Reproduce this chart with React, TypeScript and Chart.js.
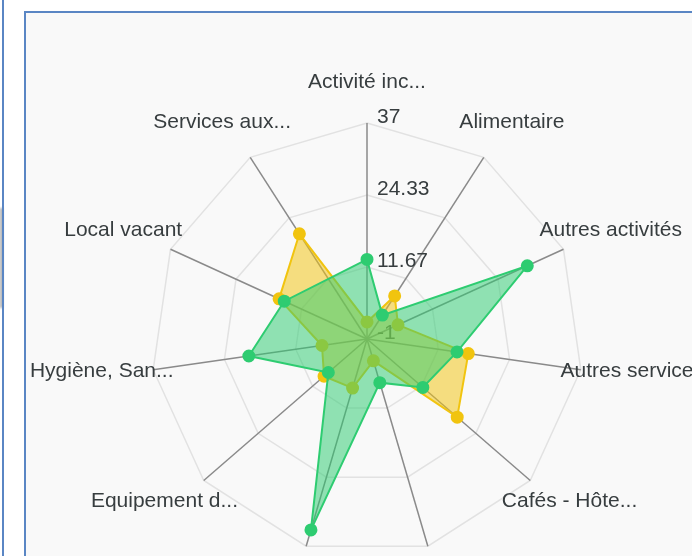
import React, { useEffect, useRef } from "react";
import { Chart, registerables } from "chart.js";

Chart.register(...registerables);

// ---- data ----
const categories = [
  "Activité inconnue",
  "Alimentaire",
  "Autres activités",
  "Autres services",
  "Cafés - Hôtels - Restaurants",
  "Culture, Loisirs, Sports",
  "Equipement de la maison",
  "Equipement de la personne",
  "Hygiène, Santé, Beauté",
  "Local vacant",
  "Services aux particuliers",
];
// green series has no value for the last category (no marker in the picture)
const greenSeries = [13, 4, 30, 15, 12, 7, 34, 8, 20, 15, null];
const yellowSeries = [2, 8, 5, 17, 20, 3, 8, 9, 7, 16, 21];
const tickLabels = ["-1", "11.67", "24.33", "37"];
const scaleMin = -1;
const scaleMax = 37;

const FONT = "21px 'Liberation Sans', Arial, Helvetica, sans-serif";
const TEXT_COLOR = "#373d3f";

const shorten = (s: string) => (s.length > 16 ? s.slice(0, 12) + "..." : s);

const labelPlugin = {
  id: "radarTexts",
  beforeDatasetsDraw(chart: any) {
    const scale = chart.scales.r;
    const ctx = chart.ctx as CanvasRenderingContext2D;
    ctx.save();
    ctx.font = FONT;
    ctx.fillStyle = TEXT_COLOR;
    // tick labels, left-aligned just right of the vertical axis, baseline on the ring
    ctx.textAlign = "left";
    ctx.textBaseline = "alphabetic";
    scale.ticks.forEach((t: any, i: number) => {
      const d = scale.getDistanceFromCenterForValue(t.value);
      ctx.fillText(tickLabels[i] ?? String(t.value), scale.xCenter + 10, scale.yCenter - d);
    });
    // category labels, centered outside the outer ring
    ctx.textAlign = "center";
    const n = chart.data.labels.length;
    for (let i = 0; i < n; i++) {
      const px = scale.getPointPosition(i, scale.drawingArea + 52);
      const py = scale.getPointPosition(i, scale.drawingArea + 37);
      ctx.fillText(shorten(chart.data.labels[i]), px.x, py.y + 2);
    }
    ctx.restore();
  },
};

export default function App() {
  const canvasRef = useRef<HTMLCanvasElement | null>(null);

  useEffect(() => {
    const canvas = canvasRef.current;
    if (!canvas) return;
    const chart = new Chart(canvas, {
      type: "radar",
      data: {
        labels: categories,
        datasets: [
          {
            label: "Série 1",
            data: greenSeries,
            borderColor: "#2ecc71",
            backgroundColor: "rgba(46, 204, 113, 0.52)",
            pointBackgroundColor: "#2ecc71",
            pointBorderColor: "#2ecc71",
            borderWidth: 2,
            pointRadius: 5.5,
            pointBorderWidth: 2,
            fill: "start",
            spanGaps: true,
          },
          {
            label: "Série 2",
            data: yellowSeries,
            borderColor: "#f1c40f",
            backgroundColor: "rgba(241, 196, 15, 0.52)",
            pointBackgroundColor: "#f1c40f",
            pointBorderColor: "#f1c40f",
            borderWidth: 2,
            pointRadius: 5.5,
            pointBorderWidth: 2,
            fill: "start",
          },
        ],
      },
      options: {
        responsive: false,
        animation: false,
        devicePixelRatio: 1,
        layout: { padding: { left: 151, right: 109, top: 123, bottom: 1 } },
        plugins: { legend: { display: false }, tooltip: { enabled: false } },
        elements: { line: { tension: 0 } },
        scales: {
          r: {
            min: scaleMin,
            max: scaleMax,
            ticks: { display: false, count: tickLabels.length },
            pointLabels: { display: false },
            grid: { color: "#e2e2e2", lineWidth: 1.5 },
            angleLines: { color: "#8a8a8a", lineWidth: 1.5 },
          },
        },
      },
      plugins: [labelPlugin],
    });
    return () => chart.destroy();
  }, []);

  return (
    <div
      style={{
        position: "absolute",
        left: 0,
        top: 0,
        width: 692,
        height: 556,
        overflow: "hidden",
        background: "#ffffff",
      }}
    >
      <div style={{ position: "absolute", left: 0, top: 208, width: 3, height: 100, background: "#b0b0b0", filter: "blur(1px)" }} />
      <div style={{ position: "absolute", left: 2, top: 0, width: 2, height: 556, background: "#5a86c4" }} />
      <div
        style={{
          position: "absolute",
          left: 24,
          top: 11,
          width: 720,
          height: 600,
          boxSizing: "border-box",
          borderLeft: "2px solid #5a86c4",
          borderTop: "2px solid #5a86c4",
          background: "#f9f9f9",
        }}
      />
      <canvas
        ref={canvasRef}
        width={692}
        height={556}
        style={{ position: "absolute", left: 0, top: 0, width: 692, height: 556 }}
      />
    </div>
  );
}
